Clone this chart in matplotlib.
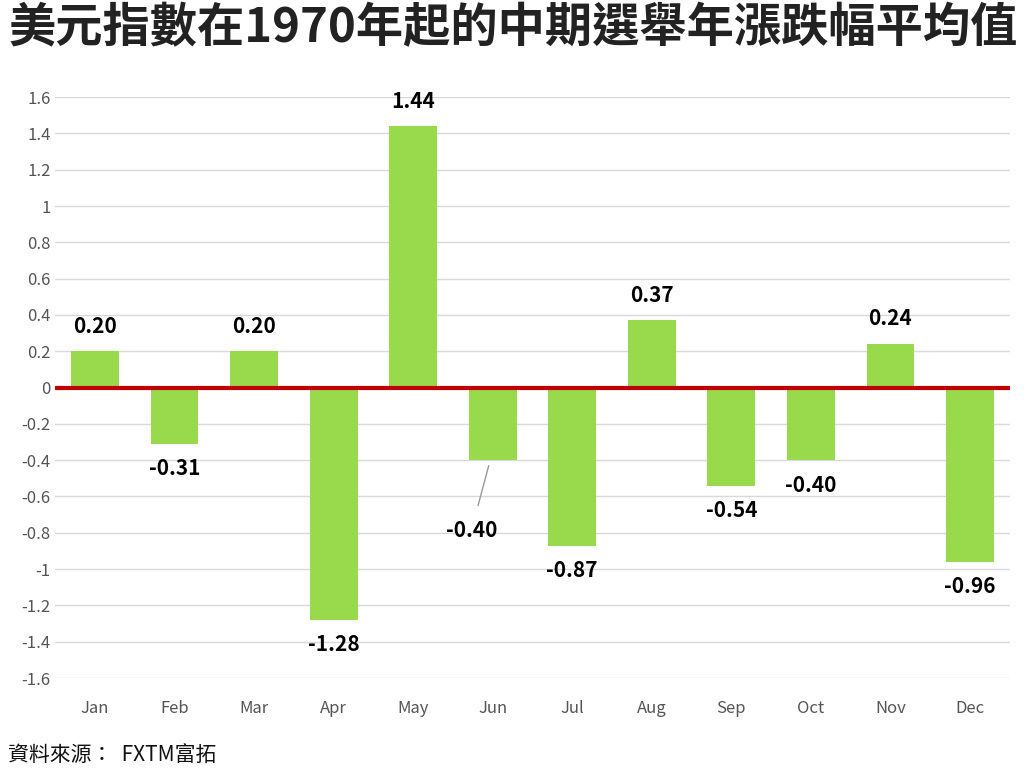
import matplotlib
matplotlib.use("agg")
import matplotlib.pyplot as plt

plt.rcParams['font.family'] = ['Noto Sans CJK TC', 'DejaVu Sans']

months = ["Jan", "Feb", "Mar", "Apr", "May", "Jun", "Jul", "Aug", "Sep", "Oct", "Nov", "Dec"]
values = [0.20, -0.31, 0.20, -1.28, 1.44, -0.40, -0.87, 0.37, -0.54, -0.40, 0.24, -0.96]
yticks = [1.6, 1.4, 1.2, 1, 0.8, 0.6, 0.4, 0.2, 0, -0.2, -0.4, -0.6, -0.8, -1, -1.2, -1.4, -1.6]

GREEN = "#99d94c"
RED = "#c00000"
GREY = "#555555"

fig = plt.figure(figsize=(10.24, 7.71), dpi=100)
ax = fig.add_axes([0.054, 0.1206, 0.932, 0.7534])
x = range(len(months))
ax.bar(x, values, width=0.6, color=GREEN, zorder=2)
ax.axhline(0, color=RED, lw=3, zorder=3)
ax.set_ylim(-1.6, 1.6)
ax.set_xlim(-0.5, 11.5)
ax.set_yticks(yticks)
ax.set_yticklabels([f"{t:g}" for t in yticks])
ax.set_xticks(list(x))
ax.set_xticklabels(months)
ax.tick_params(length=0, colors=GREY, labelsize=12)
ax.tick_params(axis="x", pad=16)
ax.grid(axis="y", color="#d9d9d9", lw=1, zorder=0)
for s in ax.spines.values():
    s.set_visible(False)

for i, v in enumerate(values):
    if months[i] == "Jun":
        # label pushed below-left with a leader line, as in the source
        ax.annotate(f"{v:.2f}", xy=(i - 0.05, v - 0.03), xytext=(i - 0.27, v - 0.39),
                    ha="center", va="center", fontsize=15, fontweight="bold",
                    arrowprops=dict(arrowstyle="-", color="#999999", lw=1,
                                    shrinkA=9, shrinkB=0))
    elif v >= 0:
        ax.text(i, v + 0.08, f"{v:.2f}", ha="center", va="bottom",
                fontsize=15, fontweight="bold")
    else:
        ax.text(i, v - 0.08, f"{v:.2f}", ha="center", va="top",
                fontsize=15, fontweight="bold")

fig.text(0.008, 0.995, "美元指數在1970年起的中期選舉年漲跌幅平均值", ha="left", va="top",
         fontsize=34, fontweight="bold", color="#222222")
fig.text(0.008, 0.005, "資料來源：  FXTM富拓", ha="left", va="bottom",
         fontsize=15, color="#111111")

fig.savefig("out.png", dpi=100, facecolor="white")
